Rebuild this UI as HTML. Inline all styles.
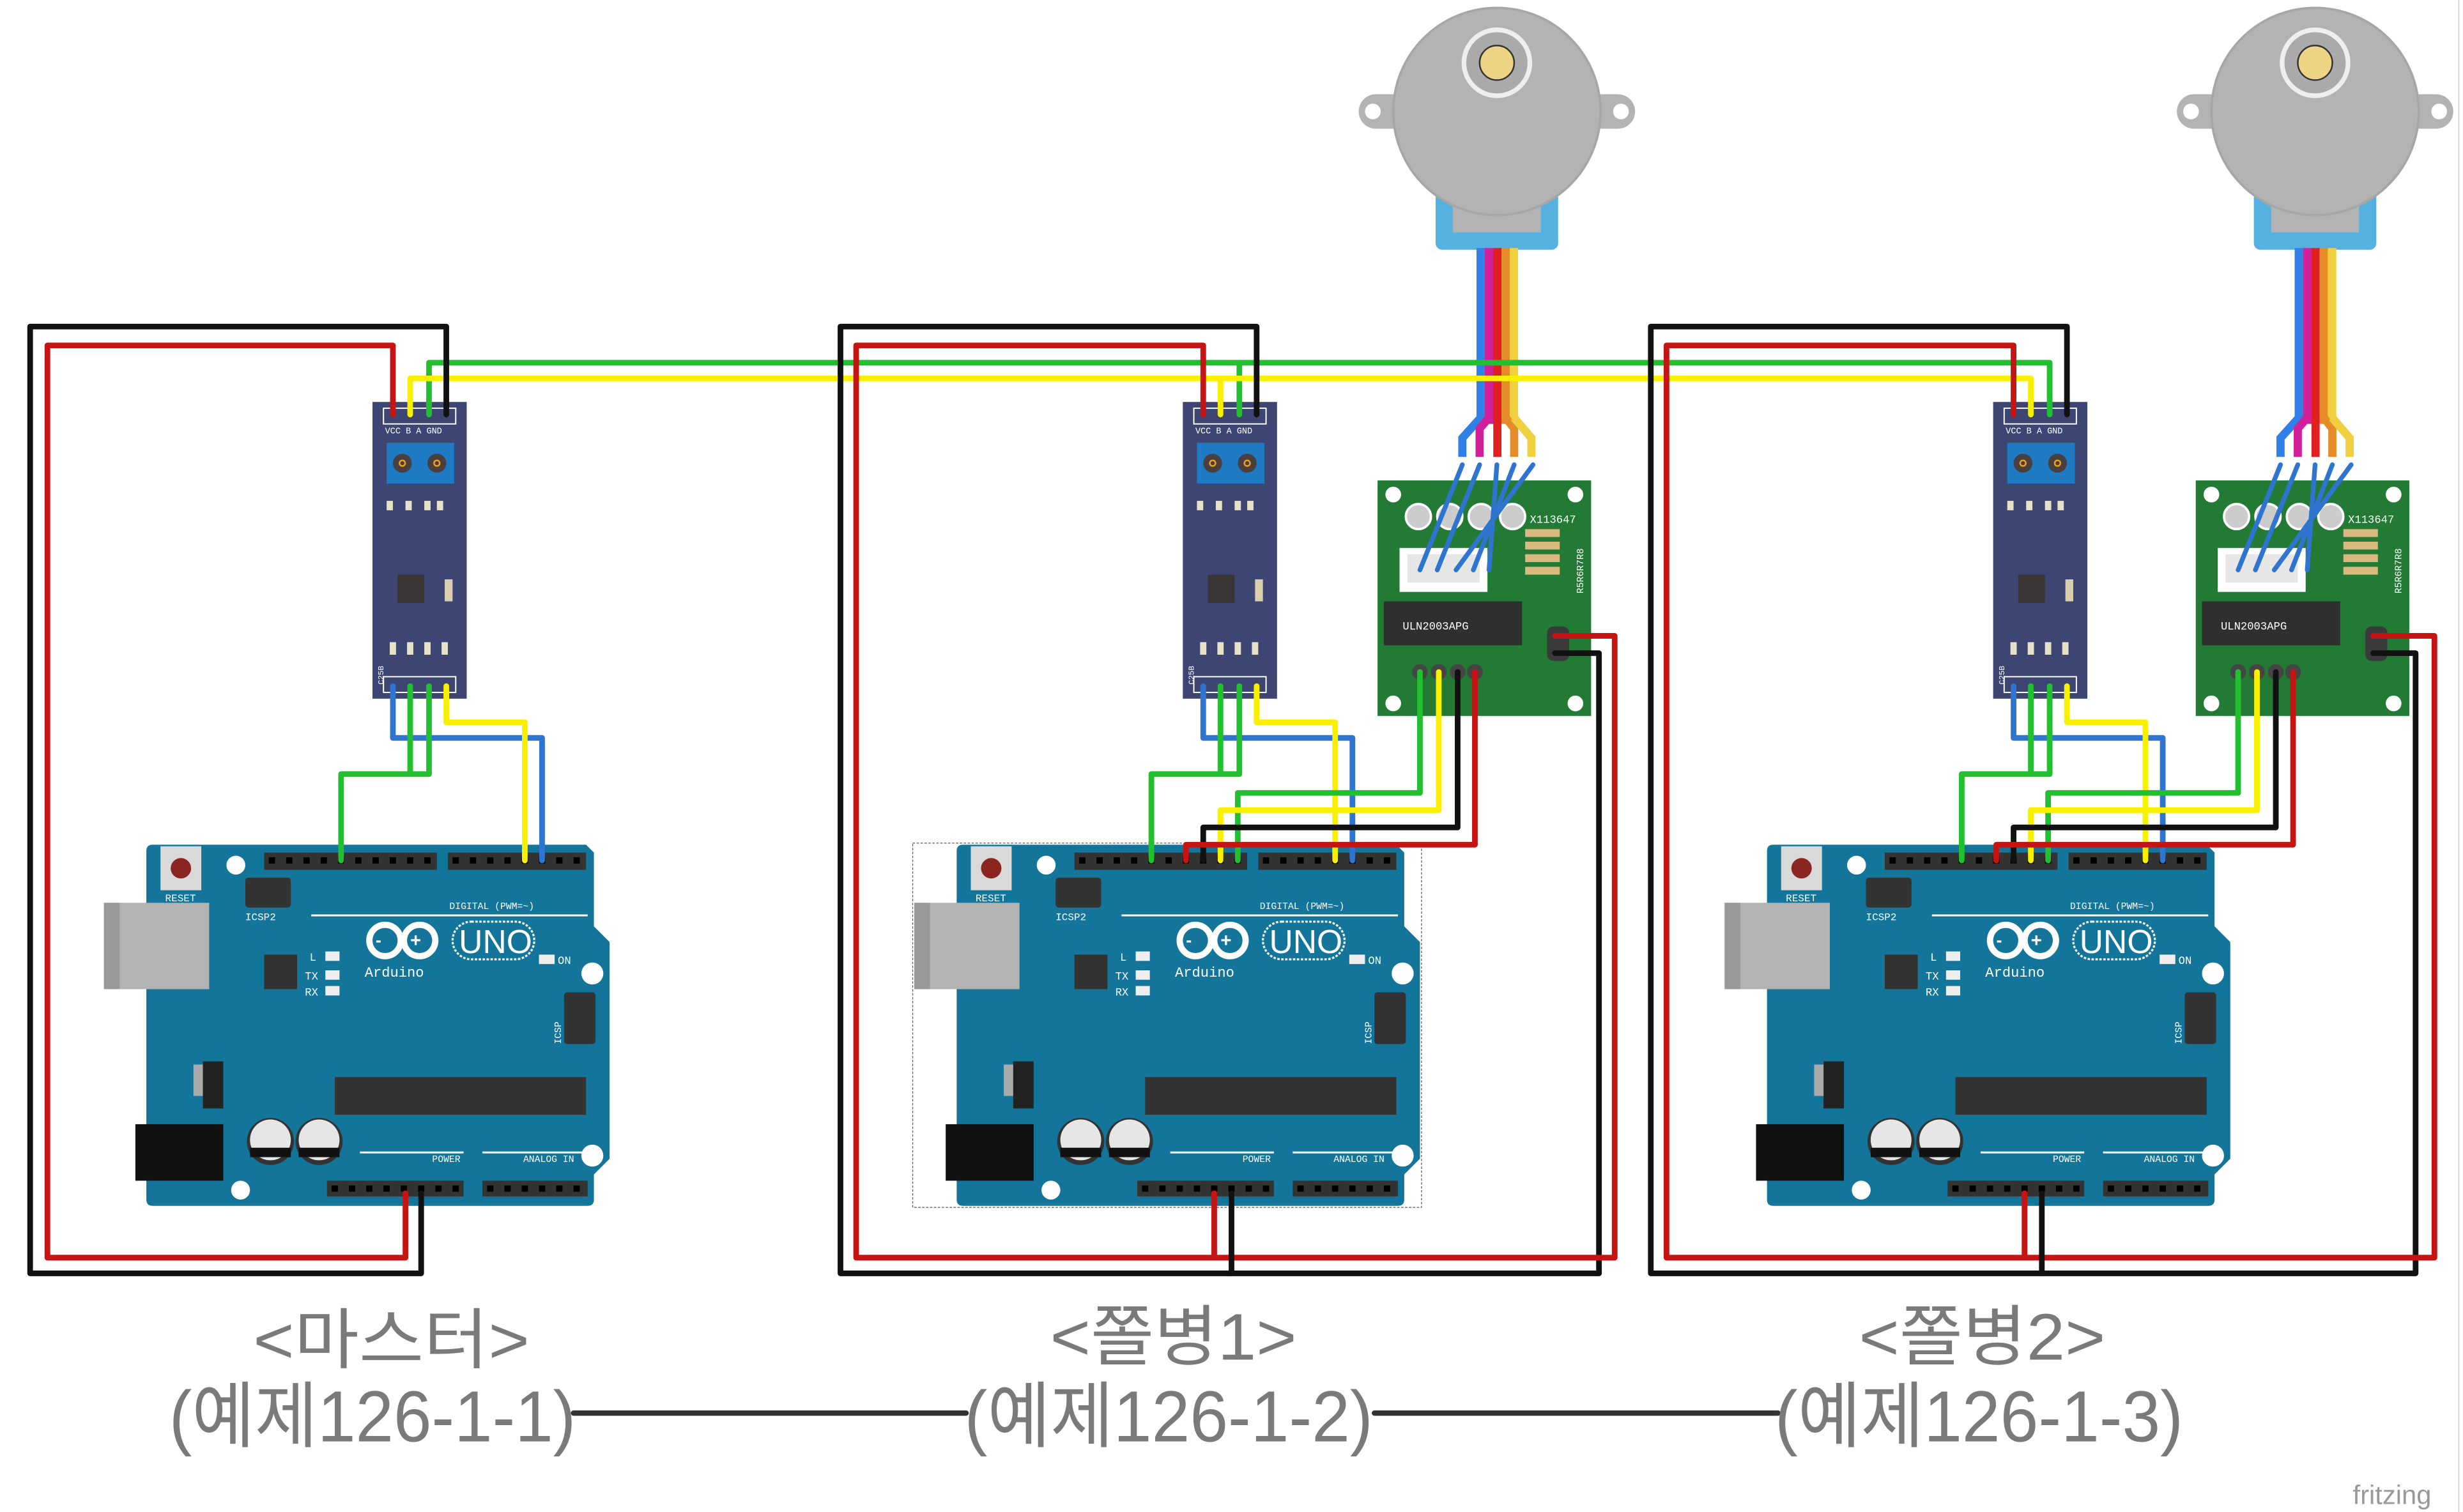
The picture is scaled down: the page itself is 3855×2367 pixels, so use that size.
<!DOCTYPE html>
<html><head><meta charset="utf-8"><style>
html,body{margin:0;padding:0;background:#fff;}
svg{display:block;}
text{font-family:"Liberation Sans","Noto Sans CJK KR",sans-serif;}
.m{font-family:"Liberation Mono","DejaVu Sans Mono",monospace;fill:#fff;}
</style></head><body>
<svg width="3855" height="2367" viewBox="0 0 1568 963" xmlns="http://www.w3.org/2000/svg">
<rect width="1568" height="963" fill="#fff"/>
<line x1="1565.5" y1="0" x2="1565.5" y2="963" stroke="#ccc" stroke-width="0.6"/>

<!-- ===== ARDUINOS ===== -->
<g transform="translate(93,538)">
 <path d="M0,4 Q0,0 4,0 H280 L285,5 V52 L295,62 V200 L285,210 V226 Q285,230 281,230 H4 Q0,230 0,226 Z" fill="#13759a"/>
 <rect x="-27" y="37" width="67" height="55" fill="#b3b3b3"/><rect x="-27" y="37" width="10" height="55" fill="#999"/>
 <rect x="9" y="1" width="26" height="28" fill="#d9d9d9"/><circle cx="22" cy="15" r="6.5" fill="#8b2520"/>
 <text x="12" y="36" class="m" font-size="6.5">RESET</text>
 <rect x="63" y="21" width="29" height="19" rx="2" fill="#333"/>
 <text x="63" y="48" class="m" font-size="6.5">ICSP2</text>
 <rect x="75" y="5" width="110" height="11" fill="#333"/>
 <rect x="192" y="5" width="88" height="11" fill="#333"/>
 <g fill="#000">
  <rect x="78" y="8" width="4" height="4"/><rect x="89" y="8" width="4" height="4"/><rect x="100" y="8" width="4" height="4"/><rect x="111" y="8" width="4" height="4"/><rect x="122" y="8" width="4" height="4"/><rect x="133" y="8" width="4" height="4"/><rect x="144" y="8" width="4" height="4"/><rect x="155" y="8" width="4" height="4"/><rect x="166" y="8" width="4" height="4"/><rect x="177" y="8" width="4" height="4"/>
  <rect x="195" y="8" width="4" height="4"/><rect x="206" y="8" width="4" height="4"/><rect x="217" y="8" width="4" height="4"/><rect x="228" y="8" width="4" height="4"/><rect x="239" y="8" width="4" height="4"/><rect x="250" y="8" width="4" height="4"/><rect x="261" y="8" width="4" height="4"/><rect x="272" y="8" width="4" height="4"/>
 </g>
 <circle cx="57" cy="13" r="6" fill="#fff"/>
 <text x="193" y="41" class="m" font-size="6">DIGITAL (PWM=~)</text>
 <line x1="105" y1="45" x2="281" y2="45" stroke="#fff" stroke-width="1.2"/>
 <rect x="75" y="70" width="21" height="22" fill="#333"/>
 <text x="104" y="74" class="m" font-size="7">L</text><rect x="114" y="68" width="9" height="6" fill="#eee"/>
 <text x="101" y="86" class="m" font-size="7">TX</text><rect x="114" y="80" width="9" height="6" fill="#eee"/>
 <text x="101" y="96" class="m" font-size="7">RX</text><rect x="114" y="90" width="9" height="6" fill="#eee"/>
 <g fill="none" stroke="#fff" stroke-width="4"><circle cx="152" cy="61" r="10"/><circle cx="174" cy="61" r="10"/></g>
 <text x="146" y="64.5" fill="#fff" font-size="11" font-weight="bold">-</text><text x="168" y="65" fill="#fff" font-size="12" font-weight="bold">+</text>
 <rect x="195" y="49" width="52" height="24" rx="12" fill="none" stroke="#fff" stroke-width="1.3" stroke-dasharray="1.5 1"/>
 <text x="199" y="69" fill="#fff" font-size="21">UNO</text>
 <text x="139" y="84" class="m" font-size="9">Arduino</text>
 <rect x="250" y="70" width="10" height="6" fill="#eee"/><text x="262" y="76" class="m" font-size="7">ON</text>
 <circle cx="284" cy="82" r="7" fill="#fff"/>
 <rect x="266" y="94" width="20" height="33" rx="2" fill="#333"/>
 <text x="264" y="127" class="m" font-size="6" transform="rotate(-90 264 127)">ICSP</text>
 <rect x="30" y="140" width="8" height="20" fill="#aaa"/><rect x="36" y="138" width="13" height="30" fill="#222"/>
 <rect x="120" y="148" width="160" height="24" fill="#333"/>
 <rect x="-7" y="178" width="56" height="36" fill="#111"/>
 <circle cx="79" cy="189" r="15" fill="#333"/><circle cx="79" cy="188" r="13" fill="#e6e6e6"/><rect x="66" y="193" width="26" height="6" fill="#111"/>
 <circle cx="110" cy="189" r="15" fill="#333"/><circle cx="110" cy="188" r="13" fill="#e6e6e6"/><rect x="97" y="193" width="26" height="6" fill="#111"/>
 <line x1="136" y1="196" x2="202" y2="196" stroke="#fff" stroke-width="1.2"/><line x1="214" y1="196" x2="281" y2="196" stroke="#fff" stroke-width="1.2"/>
 <text x="182" y="202" class="m" font-size="6">POWER</text><text x="240" y="202" class="m" font-size="6">ANALOG IN</text>
 <circle cx="284" cy="198" r="7" fill="#fff"/><circle cx="60" cy="220" r="6" fill="#fff"/>
 <rect x="115" y="214" width="87" height="10" fill="#333"/><rect x="214" y="214" width="67" height="10" fill="#333"/>
 <g fill="#000">
  <rect x="118" y="217" width="4" height="4"/><rect x="129" y="217" width="4" height="4"/><rect x="140" y="217" width="4" height="4"/><rect x="151" y="217" width="4" height="4"/><rect x="162" y="217" width="4" height="4"/><rect x="173" y="217" width="4" height="4"/><rect x="184" y="217" width="4" height="4"/><rect x="195" y="217" width="4" height="4"/>
  <rect x="217" y="217" width="4" height="4"/><rect x="228" y="217" width="4" height="4"/><rect x="239" y="217" width="4" height="4"/><rect x="250" y="217" width="4" height="4"/><rect x="261" y="217" width="4" height="4"/><rect x="272" y="217" width="4" height="4"/>
 </g>
</g>

<g transform="translate(609,538)">
 <rect x="-28" y="-1" width="324" height="232" fill="none" stroke="#555" stroke-width="0.5" stroke-dasharray="1.5 1"/>
 <path d="M0,4 Q0,0 4,0 H280 L285,5 V52 L295,62 V200 L285,210 V226 Q285,230 281,230 H4 Q0,230 0,226 Z" fill="#13759a"/>
 <rect x="-27" y="37" width="67" height="55" fill="#b3b3b3"/><rect x="-27" y="37" width="10" height="55" fill="#999"/>
 <rect x="9" y="1" width="26" height="28" fill="#d9d9d9"/><circle cx="22" cy="15" r="6.5" fill="#8b2520"/>
 <text x="12" y="36" class="m" font-size="6.5">RESET</text>
 <rect x="63" y="21" width="29" height="19" rx="2" fill="#333"/>
 <text x="63" y="48" class="m" font-size="6.5">ICSP2</text>
 <rect x="75" y="5" width="110" height="11" fill="#333"/>
 <rect x="192" y="5" width="88" height="11" fill="#333"/>
 <g fill="#000">
  <rect x="78" y="8" width="4" height="4"/><rect x="89" y="8" width="4" height="4"/><rect x="100" y="8" width="4" height="4"/><rect x="111" y="8" width="4" height="4"/><rect x="122" y="8" width="4" height="4"/><rect x="133" y="8" width="4" height="4"/><rect x="144" y="8" width="4" height="4"/><rect x="155" y="8" width="4" height="4"/><rect x="166" y="8" width="4" height="4"/><rect x="177" y="8" width="4" height="4"/>
  <rect x="195" y="8" width="4" height="4"/><rect x="206" y="8" width="4" height="4"/><rect x="217" y="8" width="4" height="4"/><rect x="228" y="8" width="4" height="4"/><rect x="239" y="8" width="4" height="4"/><rect x="250" y="8" width="4" height="4"/><rect x="261" y="8" width="4" height="4"/><rect x="272" y="8" width="4" height="4"/>
 </g>
 <circle cx="57" cy="13" r="6" fill="#fff"/>
 <text x="193" y="41" class="m" font-size="6">DIGITAL (PWM=~)</text>
 <line x1="105" y1="45" x2="281" y2="45" stroke="#fff" stroke-width="1.2"/>
 <rect x="75" y="70" width="21" height="22" fill="#333"/>
 <text x="104" y="74" class="m" font-size="7">L</text><rect x="114" y="68" width="9" height="6" fill="#eee"/>
 <text x="101" y="86" class="m" font-size="7">TX</text><rect x="114" y="80" width="9" height="6" fill="#eee"/>
 <text x="101" y="96" class="m" font-size="7">RX</text><rect x="114" y="90" width="9" height="6" fill="#eee"/>
 <g fill="none" stroke="#fff" stroke-width="4"><circle cx="152" cy="61" r="10"/><circle cx="174" cy="61" r="10"/></g>
 <text x="146" y="64.5" fill="#fff" font-size="11" font-weight="bold">-</text><text x="168" y="65" fill="#fff" font-size="12" font-weight="bold">+</text>
 <rect x="195" y="49" width="52" height="24" rx="12" fill="none" stroke="#fff" stroke-width="1.3" stroke-dasharray="1.5 1"/>
 <text x="199" y="69" fill="#fff" font-size="21">UNO</text>
 <text x="139" y="84" class="m" font-size="9">Arduino</text>
 <rect x="250" y="70" width="10" height="6" fill="#eee"/><text x="262" y="76" class="m" font-size="7">ON</text>
 <circle cx="284" cy="82" r="7" fill="#fff"/>
 <rect x="266" y="94" width="20" height="33" rx="2" fill="#333"/>
 <text x="264" y="127" class="m" font-size="6" transform="rotate(-90 264 127)">ICSP</text>
 <rect x="30" y="140" width="8" height="20" fill="#aaa"/><rect x="36" y="138" width="13" height="30" fill="#222"/>
 <rect x="120" y="148" width="160" height="24" fill="#333"/>
 <rect x="-7" y="178" width="56" height="36" fill="#111"/>
 <circle cx="79" cy="189" r="15" fill="#333"/><circle cx="79" cy="188" r="13" fill="#e6e6e6"/><rect x="66" y="193" width="26" height="6" fill="#111"/>
 <circle cx="110" cy="189" r="15" fill="#333"/><circle cx="110" cy="188" r="13" fill="#e6e6e6"/><rect x="97" y="193" width="26" height="6" fill="#111"/>
 <line x1="136" y1="196" x2="202" y2="196" stroke="#fff" stroke-width="1.2"/><line x1="214" y1="196" x2="281" y2="196" stroke="#fff" stroke-width="1.2"/>
 <text x="182" y="202" class="m" font-size="6">POWER</text><text x="240" y="202" class="m" font-size="6">ANALOG IN</text>
 <circle cx="284" cy="198" r="7" fill="#fff"/><circle cx="60" cy="220" r="6" fill="#fff"/>
 <rect x="115" y="214" width="87" height="10" fill="#333"/><rect x="214" y="214" width="67" height="10" fill="#333"/>
 <g fill="#000">
  <rect x="118" y="217" width="4" height="4"/><rect x="129" y="217" width="4" height="4"/><rect x="140" y="217" width="4" height="4"/><rect x="151" y="217" width="4" height="4"/><rect x="162" y="217" width="4" height="4"/><rect x="173" y="217" width="4" height="4"/><rect x="184" y="217" width="4" height="4"/><rect x="195" y="217" width="4" height="4"/>
  <rect x="217" y="217" width="4" height="4"/><rect x="228" y="217" width="4" height="4"/><rect x="239" y="217" width="4" height="4"/><rect x="250" y="217" width="4" height="4"/><rect x="261" y="217" width="4" height="4"/><rect x="272" y="217" width="4" height="4"/>
 </g>
</g>

<g transform="translate(1125,538)">
 <path d="M0,4 Q0,0 4,0 H280 L285,5 V52 L295,62 V200 L285,210 V226 Q285,230 281,230 H4 Q0,230 0,226 Z" fill="#13759a"/>
 <rect x="-27" y="37" width="67" height="55" fill="#b3b3b3"/><rect x="-27" y="37" width="10" height="55" fill="#999"/>
 <rect x="9" y="1" width="26" height="28" fill="#d9d9d9"/><circle cx="22" cy="15" r="6.5" fill="#8b2520"/>
 <text x="12" y="36" class="m" font-size="6.5">RESET</text>
 <rect x="63" y="21" width="29" height="19" rx="2" fill="#333"/>
 <text x="63" y="48" class="m" font-size="6.5">ICSP2</text>
 <rect x="75" y="5" width="110" height="11" fill="#333"/>
 <rect x="192" y="5" width="88" height="11" fill="#333"/>
 <g fill="#000">
  <rect x="78" y="8" width="4" height="4"/><rect x="89" y="8" width="4" height="4"/><rect x="100" y="8" width="4" height="4"/><rect x="111" y="8" width="4" height="4"/><rect x="122" y="8" width="4" height="4"/><rect x="133" y="8" width="4" height="4"/><rect x="144" y="8" width="4" height="4"/><rect x="155" y="8" width="4" height="4"/><rect x="166" y="8" width="4" height="4"/><rect x="177" y="8" width="4" height="4"/>
  <rect x="195" y="8" width="4" height="4"/><rect x="206" y="8" width="4" height="4"/><rect x="217" y="8" width="4" height="4"/><rect x="228" y="8" width="4" height="4"/><rect x="239" y="8" width="4" height="4"/><rect x="250" y="8" width="4" height="4"/><rect x="261" y="8" width="4" height="4"/><rect x="272" y="8" width="4" height="4"/>
 </g>
 <circle cx="57" cy="13" r="6" fill="#fff"/>
 <text x="193" y="41" class="m" font-size="6">DIGITAL (PWM=~)</text>
 <line x1="105" y1="45" x2="281" y2="45" stroke="#fff" stroke-width="1.2"/>
 <rect x="75" y="70" width="21" height="22" fill="#333"/>
 <text x="104" y="74" class="m" font-size="7">L</text><rect x="114" y="68" width="9" height="6" fill="#eee"/>
 <text x="101" y="86" class="m" font-size="7">TX</text><rect x="114" y="80" width="9" height="6" fill="#eee"/>
 <text x="101" y="96" class="m" font-size="7">RX</text><rect x="114" y="90" width="9" height="6" fill="#eee"/>
 <g fill="none" stroke="#fff" stroke-width="4"><circle cx="152" cy="61" r="10"/><circle cx="174" cy="61" r="10"/></g>
 <text x="146" y="64.5" fill="#fff" font-size="11" font-weight="bold">-</text><text x="168" y="65" fill="#fff" font-size="12" font-weight="bold">+</text>
 <rect x="195" y="49" width="52" height="24" rx="12" fill="none" stroke="#fff" stroke-width="1.3" stroke-dasharray="1.5 1"/>
 <text x="199" y="69" fill="#fff" font-size="21">UNO</text>
 <text x="139" y="84" class="m" font-size="9">Arduino</text>
 <rect x="250" y="70" width="10" height="6" fill="#eee"/><text x="262" y="76" class="m" font-size="7">ON</text>
 <circle cx="284" cy="82" r="7" fill="#fff"/>
 <rect x="266" y="94" width="20" height="33" rx="2" fill="#333"/>
 <text x="264" y="127" class="m" font-size="6" transform="rotate(-90 264 127)">ICSP</text>
 <rect x="30" y="140" width="8" height="20" fill="#aaa"/><rect x="36" y="138" width="13" height="30" fill="#222"/>
 <rect x="120" y="148" width="160" height="24" fill="#333"/>
 <rect x="-7" y="178" width="56" height="36" fill="#111"/>
 <circle cx="79" cy="189" r="15" fill="#333"/><circle cx="79" cy="188" r="13" fill="#e6e6e6"/><rect x="66" y="193" width="26" height="6" fill="#111"/>
 <circle cx="110" cy="189" r="15" fill="#333"/><circle cx="110" cy="188" r="13" fill="#e6e6e6"/><rect x="97" y="193" width="26" height="6" fill="#111"/>
 <line x1="136" y1="196" x2="202" y2="196" stroke="#fff" stroke-width="1.2"/><line x1="214" y1="196" x2="281" y2="196" stroke="#fff" stroke-width="1.2"/>
 <text x="182" y="202" class="m" font-size="6">POWER</text><text x="240" y="202" class="m" font-size="6">ANALOG IN</text>
 <circle cx="284" cy="198" r="7" fill="#fff"/><circle cx="60" cy="220" r="6" fill="#fff"/>
 <rect x="115" y="214" width="87" height="10" fill="#333"/><rect x="214" y="214" width="67" height="10" fill="#333"/>
 <g fill="#000">
  <rect x="118" y="217" width="4" height="4"/><rect x="129" y="217" width="4" height="4"/><rect x="140" y="217" width="4" height="4"/><rect x="151" y="217" width="4" height="4"/><rect x="162" y="217" width="4" height="4"/><rect x="173" y="217" width="4" height="4"/><rect x="184" y="217" width="4" height="4"/><rect x="195" y="217" width="4" height="4"/>
  <rect x="217" y="217" width="4" height="4"/><rect x="228" y="217" width="4" height="4"/><rect x="239" y="217" width="4" height="4"/><rect x="250" y="217" width="4" height="4"/><rect x="261" y="217" width="4" height="4"/><rect x="272" y="217" width="4" height="4"/>
 </g>
</g>

<!-- ===== RS485 modules ===== -->
<g transform="translate(237,256)">
 <rect x="0" y="0" width="60" height="189" fill="#3d4672"/>
 <rect x="7" y="4" width="46" height="10" fill="none" stroke="#fff" stroke-width="0.8"/>
 <text x="8" y="20" class="m" font-size="5.5">VCC B  A GND</text>
 <rect x="9" y="26" width="43" height="26" fill="#1e7ac2"/>
 <circle cx="19" cy="39" r="6" fill="#4a3f3f"/><circle cx="41" cy="39" r="6" fill="#4a3f3f"/>
 <circle cx="19" cy="39" r="1.8" fill="none" stroke="#f0a020" stroke-width="1"/><circle cx="41" cy="39" r="1.8" fill="none" stroke="#f0a020" stroke-width="1"/>
 <rect x="33" y="63" width="4" height="6" fill="#e6e1c8"/><rect x="41" y="63" width="4" height="6" fill="#e6e1c8"/><rect x="21" y="63" width="4" height="6" fill="#e6e1c8"/><rect x="9" y="63" width="4" height="6" fill="#e6e1c8"/>
 <rect x="16" y="110" width="17" height="18" fill="#3a3535"/>
 <rect x="46" y="113" width="5" height="14" fill="#d9cfb0"/>
 <rect x="11" y="153" width="4" height="8" fill="#e6e1c8"/><rect x="22" y="153" width="4" height="8" fill="#e6e1c8"/><rect x="33" y="153" width="4" height="8" fill="#e6e1c8"/><rect x="44" y="153" width="4" height="8" fill="#e6e1c8"/>
 <text x="7" y="180" class="m" font-size="5" transform="rotate(-90 7 180)">C25B</text>
 <rect x="7" y="175" width="46" height="10" fill="none" stroke="#fff" stroke-width="0.8"/>
</g>
<g transform="translate(753,256)">
 <rect x="0" y="0" width="60" height="189" fill="#3d4672"/>
 <rect x="7" y="4" width="46" height="10" fill="none" stroke="#fff" stroke-width="0.8"/>
 <text x="8" y="20" class="m" font-size="5.5">VCC B  A GND</text>
 <rect x="9" y="26" width="43" height="26" fill="#1e7ac2"/>
 <circle cx="19" cy="39" r="6" fill="#4a3f3f"/><circle cx="41" cy="39" r="6" fill="#4a3f3f"/>
 <circle cx="19" cy="39" r="1.8" fill="none" stroke="#f0a020" stroke-width="1"/><circle cx="41" cy="39" r="1.8" fill="none" stroke="#f0a020" stroke-width="1"/>
 <rect x="33" y="63" width="4" height="6" fill="#e6e1c8"/><rect x="41" y="63" width="4" height="6" fill="#e6e1c8"/><rect x="21" y="63" width="4" height="6" fill="#e6e1c8"/><rect x="9" y="63" width="4" height="6" fill="#e6e1c8"/>
 <rect x="16" y="110" width="17" height="18" fill="#3a3535"/>
 <rect x="46" y="113" width="5" height="14" fill="#d9cfb0"/>
 <rect x="11" y="153" width="4" height="8" fill="#e6e1c8"/><rect x="22" y="153" width="4" height="8" fill="#e6e1c8"/><rect x="33" y="153" width="4" height="8" fill="#e6e1c8"/><rect x="44" y="153" width="4" height="8" fill="#e6e1c8"/>
 <text x="7" y="180" class="m" font-size="5" transform="rotate(-90 7 180)">C25B</text>
 <rect x="7" y="175" width="46" height="10" fill="none" stroke="#fff" stroke-width="0.8"/>
</g>
<g transform="translate(1269,256)">
 <rect x="0" y="0" width="60" height="189" fill="#3d4672"/>
 <rect x="7" y="4" width="46" height="10" fill="none" stroke="#fff" stroke-width="0.8"/>
 <text x="8" y="20" class="m" font-size="5.5">VCC B  A GND</text>
 <rect x="9" y="26" width="43" height="26" fill="#1e7ac2"/>
 <circle cx="19" cy="39" r="6" fill="#4a3f3f"/><circle cx="41" cy="39" r="6" fill="#4a3f3f"/>
 <circle cx="19" cy="39" r="1.8" fill="none" stroke="#f0a020" stroke-width="1"/><circle cx="41" cy="39" r="1.8" fill="none" stroke="#f0a020" stroke-width="1"/>
 <rect x="33" y="63" width="4" height="6" fill="#e6e1c8"/><rect x="41" y="63" width="4" height="6" fill="#e6e1c8"/><rect x="21" y="63" width="4" height="6" fill="#e6e1c8"/><rect x="9" y="63" width="4" height="6" fill="#e6e1c8"/>
 <rect x="16" y="110" width="17" height="18" fill="#3a3535"/>
 <rect x="46" y="113" width="5" height="14" fill="#d9cfb0"/>
 <rect x="11" y="153" width="4" height="8" fill="#e6e1c8"/><rect x="22" y="153" width="4" height="8" fill="#e6e1c8"/><rect x="33" y="153" width="4" height="8" fill="#e6e1c8"/><rect x="44" y="153" width="4" height="8" fill="#e6e1c8"/>
 <text x="7" y="180" class="m" font-size="5" transform="rotate(-90 7 180)">C25B</text>
 <rect x="7" y="175" width="46" height="10" fill="none" stroke="#fff" stroke-width="0.8"/>
</g>

<!-- ===== ULN2003 boards ===== -->
<g transform="translate(877,306)">
 <rect x="0" y="0" width="136" height="150" fill="#227a35"/>
 <circle cx="10" cy="9" r="5" fill="#fff"/><circle cx="126" cy="9" r="5" fill="#fff"/><circle cx="10" cy="142" r="5" fill="#fff"/><circle cx="126" cy="142" r="5" fill="#fff"/>
 <circle cx="26" cy="23" r="8" fill="#ccc" stroke="#fff" stroke-width="1.5"/><circle cx="46" cy="23" r="8" fill="#ccc" stroke="#fff" stroke-width="1.5"/><circle cx="66" cy="23" r="8" fill="#ccc" stroke="#fff" stroke-width="1.5"/><circle cx="86" cy="23" r="8" fill="#ccc" stroke="#fff" stroke-width="1.5"/>
 <text x="97" y="27" class="m" font-size="7">X113647</text>
 <rect x="14" y="43" width="56" height="28" fill="#fff"/><rect x="19" y="47" width="46" height="18" fill="#e6e6e6"/>
 <g fill="#d9b97e"><rect x="94" y="31" width="22" height="5"/><rect x="94" y="39" width="22" height="5"/><rect x="94" y="47" width="22" height="5"/><rect x="94" y="55" width="22" height="5"/></g>
 <text x="131" y="72" class="m" font-size="6" transform="rotate(-90 131 72)">R5R6R7R8</text>
 <rect x="4" y="77" width="88" height="28" fill="#2f2f2f"/>
 <text x="16" y="95" class="m" font-size="7">ULN2003APG</text>
 <rect x="108" y="93" width="14" height="22" rx="4" fill="#3a3a3a"/>
 <g fill="#444"><circle cx="27" cy="122" r="5"/><circle cx="39" cy="122" r="5"/><circle cx="51" cy="122" r="5"/><circle cx="62" cy="122" r="5"/></g>
</g>
<g transform="translate(1398,306)">
 <rect x="0" y="0" width="136" height="150" fill="#227a35"/>
 <circle cx="10" cy="9" r="5" fill="#fff"/><circle cx="126" cy="9" r="5" fill="#fff"/><circle cx="10" cy="142" r="5" fill="#fff"/><circle cx="126" cy="142" r="5" fill="#fff"/>
 <circle cx="26" cy="23" r="8" fill="#ccc" stroke="#fff" stroke-width="1.5"/><circle cx="46" cy="23" r="8" fill="#ccc" stroke="#fff" stroke-width="1.5"/><circle cx="66" cy="23" r="8" fill="#ccc" stroke="#fff" stroke-width="1.5"/><circle cx="86" cy="23" r="8" fill="#ccc" stroke="#fff" stroke-width="1.5"/>
 <text x="97" y="27" class="m" font-size="7">X113647</text>
 <rect x="14" y="43" width="56" height="28" fill="#fff"/><rect x="19" y="47" width="46" height="18" fill="#e6e6e6"/>
 <g fill="#d9b97e"><rect x="94" y="31" width="22" height="5"/><rect x="94" y="39" width="22" height="5"/><rect x="94" y="47" width="22" height="5"/><rect x="94" y="55" width="22" height="5"/></g>
 <text x="131" y="72" class="m" font-size="6" transform="rotate(-90 131 72)">R5R6R7R8</text>
 <rect x="4" y="77" width="88" height="28" fill="#2f2f2f"/>
 <text x="16" y="95" class="m" font-size="7">ULN2003APG</text>
 <rect x="108" y="93" width="14" height="22" rx="4" fill="#3a3a3a"/>
 <g fill="#444"><circle cx="27" cy="122" r="5"/><circle cx="39" cy="122" r="5"/><circle cx="51" cy="122" r="5"/><circle cx="62" cy="122" r="5"/></g>
</g>

<!-- ===== Motors ===== -->
<g transform="translate(953,0)">
 <rect x="-39" y="95" width="78" height="64" rx="4" fill="#56b0e0"/>
 <rect x="-28" y="110" width="56" height="38" fill="#b3b3b3"/>
 <rect x="-88" y="60" width="176" height="22" rx="11" fill="#b3b3b3"/>
 <circle cx="-79" cy="71" r="5" fill="#fff"/><circle cx="79" cy="71" r="5" fill="#fff"/>
 <circle cx="0" cy="71" r="66" fill="#b3b3b3" stroke="#a6a6a6" stroke-width="1.5"/>
 <circle cx="0" cy="40" r="21" fill="#aaa" stroke="#eee" stroke-width="3"/>
 <circle cx="0" cy="40" r="11" fill="#ecd484" stroke="#333" stroke-width="1"/>
 <rect x="-13" y="158" width="5.3" height="112" fill="#3080e8"/><rect x="-7.7" y="158" width="5.3" height="112" fill="#d2209a"/><rect x="-2.4" y="158" width="5.3" height="112" fill="#e02020"/><rect x="2.9" y="158" width="5.3" height="112" fill="#e48c28"/><rect x="8.2" y="158" width="5.3" height="112" fill="#f0d040"/>
 <g fill="none" stroke-width="5.2">
  <path d="M-10.3,266 L-22,279 V291" stroke="#3080e8"/><path d="M-5,266 L-11,273 V291" stroke="#d2209a"/><path d="M0.3,266 V291" stroke="#e02020"/><path d="M5.6,266 L11,273 V291" stroke="#e48c28"/><path d="M10.9,266 L22,279 V291" stroke="#f0d040"/>
 </g>
</g>
<g transform="translate(1474,0)">
 <rect x="-39" y="95" width="78" height="64" rx="4" fill="#56b0e0"/>
 <rect x="-28" y="110" width="56" height="38" fill="#b3b3b3"/>
 <rect x="-88" y="60" width="176" height="22" rx="11" fill="#b3b3b3"/>
 <circle cx="-79" cy="71" r="5" fill="#fff"/><circle cx="79" cy="71" r="5" fill="#fff"/>
 <circle cx="0" cy="71" r="66" fill="#b3b3b3" stroke="#a6a6a6" stroke-width="1.5"/>
 <circle cx="0" cy="40" r="21" fill="#aaa" stroke="#eee" stroke-width="3"/>
 <circle cx="0" cy="40" r="11" fill="#ecd484" stroke="#333" stroke-width="1"/>
 <rect x="-13" y="158" width="5.3" height="112" fill="#3080e8"/><rect x="-7.7" y="158" width="5.3" height="112" fill="#d2209a"/><rect x="-2.4" y="158" width="5.3" height="112" fill="#e02020"/><rect x="2.9" y="158" width="5.3" height="112" fill="#e48c28"/><rect x="8.2" y="158" width="5.3" height="112" fill="#f0d040"/>
 <g fill="none" stroke-width="5.2">
  <path d="M-10.3,266 L-22,279 V291" stroke="#3080e8"/><path d="M-5,266 L-11,273 V291" stroke="#d2209a"/><path d="M0.3,266 V291" stroke="#e02020"/><path d="M5.6,266 L11,273 V291" stroke="#e48c28"/><path d="M10.9,266 L22,279 V291" stroke="#f0d040"/>
 </g>
</g>

<!-- ===== WIRES ===== -->
<g fill="none" stroke-linejoin="round" stroke-linecap="round" stroke-width="3.6">
 <g stroke="#2f75d0" stroke-width="3">
  <path d="M931,296 L904,363 M942,296 L915,363 M953,296 L948,363 M964,296 L938,363 M976,296 L927,363"/>
  <path d="M1452,296 L1425,363 M1463,296 L1436,363 M1474,296 L1469,363 M1485,296 L1459,363 M1497,296 L1448,363"/>
 </g>
 <path d="M273,264 V231 H1305 V264 M789,231 V264" stroke="#22c030"/>
 <path d="M261,264 V241 H1293 V264 M777,241 V264" stroke="#f8f000"/>
 <path d="M284,264 V208 H19 V811 H268 V760" stroke="#111"/>
 <path d="M250,264 V220 H30 V801 H258 V760" stroke="#c41414"/>
 <path d="M800,264 V208 H535 V811 H1018 V416 H990" stroke="#111"/>
 <path d="M766,264 V220 H545 V801 H1028 V405 H990" stroke="#c41414"/>
 <path d="M773,760 V801" stroke="#c41414"/><path d="M784,760 V811" stroke="#111"/>
 <path d="M1316,264 V208 H1051 V811 H1538 V416 H1511" stroke="#111"/>
 <path d="M1282,264 V220 H1061 V801 H1550 V405 H1511" stroke="#c41414"/>
 <path d="M1289,760 V801" stroke="#c41414"/><path d="M1300,760 V811" stroke="#111"/>
 <path d="M250,437 V470 H345 V548" stroke="#2f75d0"/>
 <path d="M261,437 V493 M273,437 V493 H217 V548" stroke="#22c030"/>
 <path d="M284,437 V460 H334 V548" stroke="#f8f000"/>
 <path d="M766,437 V470 H861 V548" stroke="#2f75d0"/>
 <path d="M777,437 V493 M789,437 V493 H733 V548" stroke="#22c030"/>
 <path d="M800,437 V460 H850 V548" stroke="#f8f000"/>
 <path d="M904,428 V505 H788 V548" stroke="#22c030"/>
 <path d="M916,428 V516 H777 V548" stroke="#f8f000"/>
 <path d="M928,428 V527 H766 V548" stroke="#111"/>
 <path d="M939,428 V538 H755 V548" stroke="#c41414"/>
 <path d="M1282,437 V470 H1377 V548" stroke="#2f75d0"/>
 <path d="M1293,437 V493 M1305,437 V493 H1249 V548" stroke="#22c030"/>
 <path d="M1316,437 V460 H1366 V548" stroke="#f8f000"/>
 <path d="M1425,428 V505 H1304 V548" stroke="#22c030"/>
 <path d="M1437,428 V516 H1293 V548" stroke="#f8f000"/>
 <path d="M1449,428 V527 H1282 V548" stroke="#111"/>
 <path d="M1460,428 V538 H1271 V548" stroke="#c41414"/>
 <path d="M365,900 H615 M875,900 H1132" stroke="#333" stroke-width="3.4"/>
</g>

<!-- ===== LABELS ===== -->
<g fill="#7a7a7a" font-size="42" text-anchor="middle">
 <text x="249" y="868" textLength="176" lengthAdjust="spacingAndGlyphs">&lt;마스터&gt;</text>
 <text x="237" y="918" font-size="46" textLength="259" lengthAdjust="spacingAndGlyphs">(예제126-1-1)</text>
 <text x="747" y="866" textLength="157" lengthAdjust="spacingAndGlyphs">&lt;쫄병1&gt;</text>
 <text x="744" y="918" font-size="46" textLength="260" lengthAdjust="spacingAndGlyphs">(예제126-1-2)</text>
 <text x="1262" y="866" textLength="157" lengthAdjust="spacingAndGlyphs">&lt;쫄병2&gt;</text>
 <text x="1260" y="918" font-size="46" textLength="260" lengthAdjust="spacingAndGlyphs">(예제126-1-3)</text>
</g>
<text x="1498" y="958" fill="#999" font-size="17" font-family="Liberation Mono, monospace">fritzing</text>
</svg>
</body></html>
